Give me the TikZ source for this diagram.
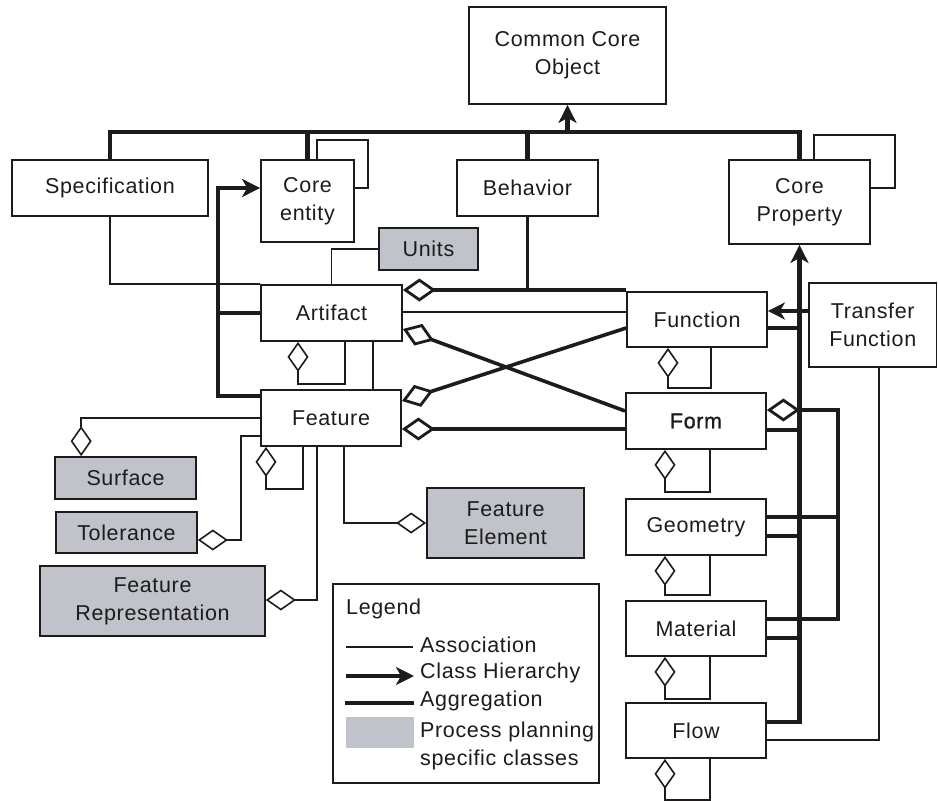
\documentclass[tikz,border=0pt]{standalone}
\usepackage{fontspec}
\setmainfont[LetterSpace=3]{Liberation Sans}
\newfontfamily\formfont[LetterSpace=3,FakeBold=1]{Liberation Sans}
\usetikzlibrary{arrows.meta,calc}
\definecolor{ppgray}{RGB}{192,195,201}
\definecolor{ink}{RGB}{30,27,28}
\begin{document}
\begin{tikzpicture}[x=1pt,y=-1pt,
  txt/.style={text=ink, inner sep=0pt, font=\fontsize{21.5}{28}\selectfont},
  box/.style={txt, draw=ink, line width=1.8pt, fill=white, align=center},
  gbox/.style={box, fill=ppgray, line width=1.7pt},
  hier/.style={line width=4.4pt, draw=ink},
  harrow/.style={hier, -{Stealth[length=18pt,width=18pt,inset=5pt]}},
  aggrline/.style={line width=3.6pt, draw=ink},
  aggr/.style={aggrline, -{Diamond[open,length=33pt,width=23pt,line width=2.8pt]}},
  assoc/.style={line width=1.5pt, draw=ink},
  tdiam/.style={assoc, -{Diamond[open,length=30pt,width=21pt,line width=1.6pt]}}
]
\useasboundingbox (0,0) rectangle (938,801);
\fill[white] (0,0) rectangle (938,801);

% ---------- boxes ----------
\node[box, minimum width=197pt, minimum height=97pt] (cco) at (567.5,55.5) {Common Core\\Object};
\node[box, minimum width=196pt, minimum height=56pt] (spec) at (110,188) {Specification};
\node[box, minimum width=93pt, minimum height=82pt] (coreent) at (307.5,201) {Core\\entity};
\node[box, minimum width=141pt, minimum height=56pt] (behavior) at (527.5,188) {Behavior};
\node[box, minimum width=141pt, minimum height=84pt] (coreprop) at (799.5,202) {Core\\Property};
\node[gbox, minimum width=99pt, minimum height=42pt] (units) at (428.5,249) {Units};
\node[box, minimum width=141pt, minimum height=56pt] (artifact) at (331.5,313) {Artifact};
\node[box, minimum width=140pt, minimum height=55pt] (function) at (697,319.5) {Function};
\node[box, minimum width=127.5pt, minimum height=84pt] (transfer) at (872.75,325) {Transfer\\Function};
\node[box, minimum width=140pt, minimum height=56pt] (feature) at (331,418) {Feature};
\node[box, minimum width=140pt, minimum height=56pt] (form) at (696,421) {\formfont Form};
\node[gbox, minimum width=141pt, minimum height=42pt] (surface) at (125.5,478) {Surface};
\node[gbox, minimum width=141pt, minimum height=41pt] (tolerance) at (126.5,532.5) {Tolerance};
\node[gbox, minimum width=225pt, minimum height=70pt] (featrep) at (152.5,601) {Feature\\Representation};
\node[gbox, minimum width=157pt, minimum height=70pt] (featelem) at (505.5,523) {Feature\\Element};
\node[box, minimum width=140pt, minimum height=56pt] (geometry) at (696,527) {Geometry};
\node[box, minimum width=140pt, minimum height=55pt] (material) at (696,628.5) {Material};
\node[box, minimum width=140pt, minimum height=55pt] (flow) at (696,730.5) {Flow};

% ---------- top class hierarchy ----------
\coordinate (bus) at (0,132);
\draw[hier] (spec.north) |- (coreprop.north |- bus) -- (coreprop.north);
\draw[hier] (coreent.north) -- (coreent.north |- bus);
\draw[hier] (behavior.north) -- (behavior.north |- bus);
\draw[harrow] (cco.south |- bus) -- (cco.south);

% ---------- left class hierarchy ----------
\coordinate (lbus) at (218,188);
\coordinate (feh) at ($(feature.north west)+(0,7)$);
\draw[harrow] (feh) -| (lbus) -- (coreent.west |- lbus);
\draw[hier] (artifact.west) -- (artifact.west -| lbus);

% ---------- right class hierarchy ----------
\coordinate (flh) at ($(flow.east)+(0,-8.5)$);
\coordinate (fnh) at ($(function.east)+(0,8.5)$);
\coordinate (fmh) at ($(form.east)+(0,9)$);
\coordinate (geh) at ($(geometry.east)+(0,9)$);
\coordinate (mah) at ($(material.east)+(0,9.5)$);
\draw[harrow] (flh) -| (coreprop.south);
\draw[hier] (fnh) -- (fnh -| coreprop.south);
\draw[hier] (fmh) -- (fmh -| coreprop.south);
\draw[hier] (geh) -- (geh -| coreprop.south);
\draw[hier] (mah) -- (mah -| coreprop.south);
\coordinate (tfa) at ($(transfer.west)+(0,-14)$);
\draw[line width=3.8pt, draw=ink, -{Stealth[length=17pt,width=17pt,inset=5pt]}] (tfa) -- (tfa -| function.east);

% ---------- form aggregation bus ----------
\coordinate (abus) at (838,0);
\coordinate (fmd) at ($(form.east)+(0,-11)$);
\coordinate (mag) at ($(material.east)+(0,-9.5)$);
\coordinate (geg) at ($(geometry.east)+(0,-10)$);
\draw[aggr] (mag) -| (abus |- fmd) -- (fmd);
\draw[aggrline] (geg) -- (geg -| abus);

% ---------- aggregations to artifact / feature ----------
\coordinate (ad1) at ($(artifact.east)+(0,-23)$);
\draw[aggr] (ad1 -| function.west) -- (ad1);
\draw[aggrline] (behavior.south) -- (behavior.south |- ad1);
\coordinate (ad2) at ($(artifact.east)+(0,16)$);
\coordinate (fml) at ($(form.west)+(0,-10)$);
\draw[aggr] (fml) -- (ad2);
\coordinate (fd1) at ($(feature.east)+(0,-17)$);
\coordinate (fnl) at ($(function.west)+(0,8.5)$);
\draw[aggr] (fnl) -- (fd1);
\coordinate (fd2) at ($(feature.east)+(0,11)$);
\draw[aggr] (fd2 -| form.west) -- (fd2);

% ---------- self aggregations ----------
\draw[tdiam] ($(artifact.south)+(13.5,0)$) -- ++(0,42) -| ($(artifact.south)+(-33.5,0)$);
\draw[tdiam] ($(feature.south)+(-28,0)$) -- ++(0,42) -| ($(feature.south)+(-65,0)$);
\draw[tdiam] ($(function.south)+(14,0)$) -- ++(0,40) -| ($(function.south)+(-29,0)$);
\draw[tdiam] ($(form.south)+(14,0)$) -- ++(0,42) -| ($(form.south)+(-31,0)$);
\draw[tdiam] ($(geometry.south)+(14,0)$) -- ++(0,39) -| ($(geometry.south)+(-31,0)$);
\draw[tdiam] ($(material.south)+(14,0)$) -- ++(0,42) -| ($(material.south)+(-31,0)$);
\draw[tdiam] ($(flow.south)+(14,0)$) -- ++(0,41) -| ($(flow.south)+(-31,0)$);

% ---------- self associations ----------
\coordinate (cel) at ($(coreent.east)+(0,-13)$);
\draw[assoc] ($(coreent.north)+(9.5,0)$) -- ++(0,-19) -| ($(cel)+(13,0)$) -- (cel);
\coordinate (cpl) at ($(coreprop.east)+(0,-14)$);
\draw[assoc] ($(coreprop.north)+(14.5,0)$) -- ++(0,-24) -| ($(cpl)+(24,0)$) -- (cpl);

% ---------- associations ----------
\draw[assoc] (spec.south) |- (artifact.north west);
\draw[assoc] (units.west) -| (artifact.north);
\coordinate (afn) at ($(artifact.east)+(0,-1)$);
\draw[assoc] (afn) -- (afn -| function.west);
\coordinate (afe) at ($(artifact.south)+(41.5,0)$);
\draw[assoc] (afe) -- (afe |- feature.north);
\draw[assoc] ($(transfer.south)+(6,0)$) |- ($(flow.east)+(0,9.5)$);

% ---------- feature associations ----------
\coordinate (sft) at ($(surface.north west)+(27,0)$);
\draw[tdiam] (feature.west) -| (sft);
\coordinate (tl1) at ($(feature.west)+(0,18)$);
\draw[tdiam] (tl1) -- ++(-19,0) |- ($(tolerance.east)+(0,7.5)$);
\draw[tdiam] ($(feature.south)+(-14,0)$) |- ($(featrep.east)+(0,-1)$);
\draw[tdiam] ($(feature.south)+(13,0)$) |- (featelem.west);

% ---------- legend ----------
\node[draw=ink, line width=1.6pt, minimum width=266pt, minimum height=199pt, inner sep=0pt] (legend) at (466,683.5) {};
\node[txt, anchor=west] (lgt) at (346,609) {Legend};
\coordinate (l1a) at (346,647); \coordinate (l1b) at (413,647);
\draw[assoc] (l1a) -- (l1b);
\node[txt, anchor=west] (lt1) at (420,645) {Association};
\coordinate (l2a) at (346,676); \coordinate (l2b) at (414,676);
\draw[harrow] (l2a) -- (l2b);
\node[txt, anchor=west] (lt2) at (420,673) {Class Hierarchy};
\coordinate (l3a) at (345,703); \coordinate (l3b) at (414,703);
\draw[aggrline] (l3a) -- (l3b);
\node[txt, anchor=west] (lt3) at (420,701) {Aggregation};
\node[fill=ppgray, minimum width=68pt, minimum height=31pt, inner sep=0pt] (lgray) at (380,732.5) {};
\node[txt, anchor=west, align=left] (lt4) at (420,746) {Process planning\\specific classes};
\end{tikzpicture}
\end{document}
